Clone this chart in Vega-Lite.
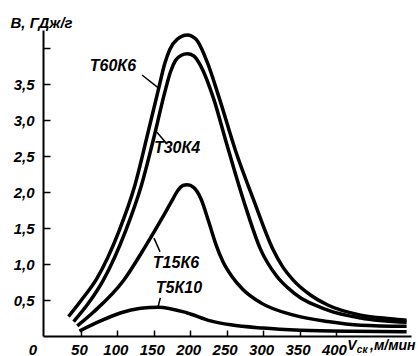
{
  "$schema": "https://vega.github.io/schema/vega-lite/v6.json",
  "width": 368,
  "height": 306,
  "autosize": {"type": "none"},
  "padding": {"left": 43, "top": 30, "right": 7, "bottom": 20},
  "background": "white",
  "config": {"view": {"stroke": null}, "font": "Liberation Sans"},
  "datasets": {
    "curves": [
      {"s": "T60K6", "v": 33, "b": 0.27}, {"s": "T60K6", "v": 50, "b": 0.49}, {"s": "T60K6", "v": 72, "b": 0.8},
      {"s": "T60K6", "v": 102, "b": 1.45}, {"s": "T60K6", "v": 124, "b": 2.09}, {"s": "T60K6", "v": 141.5, "b": 2.8},
      {"s": "T60K6", "v": 157, "b": 3.45}, {"s": "T60K6", "v": 165, "b": 3.78}, {"s": "T60K6", "v": 172, "b": 3.98},
      {"s": "T60K6", "v": 182, "b": 4.12}, {"s": "T60K6", "v": 196, "b": 4.18}, {"s": "T60K6", "v": 208, "b": 4.12},
      {"s": "T60K6", "v": 223.5, "b": 3.8}, {"s": "T60K6", "v": 240, "b": 3.3}, {"s": "T60K6", "v": 262, "b": 2.58},
      {"s": "T60K6", "v": 287, "b": 1.89}, {"s": "T60K6", "v": 312.8, "b": 1.22}, {"s": "T60K6", "v": 327, "b": 0.96},
      {"s": "T60K6", "v": 342, "b": 0.77}, {"s": "T60K6", "v": 365, "b": 0.57},
      {"s": "T60K6", "v": 388.7, "b": 0.43}, {"s": "T60K6", "v": 434, "b": 0.29}, {"s": "T60K6", "v": 475, "b": 0.24},
      {"s": "T60K6", "v": 497, "b": 0.22},
      {"s": "T30K4", "v": 40, "b": 0.2}, {"s": "T30K4", "v": 60, "b": 0.45}, {"s": "T30K4", "v": 81, "b": 0.78},
      {"s": "T30K4", "v": 111, "b": 1.45}, {"s": "T30K4", "v": 133, "b": 2.09}, {"s": "T30K4", "v": 150, "b": 2.75},
      {"s": "T30K4", "v": 165, "b": 3.38}, {"s": "T30K4", "v": 173, "b": 3.67}, {"s": "T30K4", "v": 180, "b": 3.83},
      {"s": "T30K4", "v": 188, "b": 3.9}, {"s": "T30K4", "v": 196, "b": 3.92},
      {"s": "T30K4", "v": 205, "b": 3.89}, {"s": "T30K4", "v": 214, "b": 3.76}, {"s": "T30K4", "v": 232, "b": 3.3},
      {"s": "T30K4", "v": 248.6, "b": 2.72}, {"s": "T30K4", "v": 273, "b": 1.89}, {"s": "T30K4", "v": 296.7, "b": 1.2},
      {"s": "T30K4", "v": 318, "b": 0.84}, {"s": "T30K4", "v": 342, "b": 0.6}, {"s": "T30K4", "v": 388.7, "b": 0.36},
      {"s": "T30K4", "v": 434, "b": 0.25}, {"s": "T30K4", "v": 497, "b": 0.19},
      {"s": "T15K6", "v": 45, "b": 0.14}, {"s": "T15K6", "v": 67, "b": 0.33}, {"s": "T15K6", "v": 108.5, "b": 0.77},
      {"s": "T15K6", "v": 134, "b": 1.17}, {"s": "T15K6", "v": 150, "b": 1.44}, {"s": "T15K6", "v": 165, "b": 1.7},
      {"s": "T15K6", "v": 175, "b": 1.88}, {"s": "T15K6", "v": 183, "b": 2.02}, {"s": "T15K6", "v": 190, "b": 2.09},
      {"s": "T15K6", "v": 196, "b": 2.1}, {"s": "T15K6", "v": 205, "b": 2.06}, {"s": "T15K6", "v": 215, "b": 1.9},
      {"s": "T15K6", "v": 225, "b": 1.6}, {"s": "T15K6", "v": 235, "b": 1.28}, {"s": "T15K6", "v": 245, "b": 1.03},
      {"s": "T15K6", "v": 257, "b": 0.83}, {"s": "T15K6", "v": 272, "b": 0.65}, {"s": "T15K6", "v": 297, "b": 0.46},
      {"s": "T15K6", "v": 342, "b": 0.29}, {"s": "T15K6", "v": 388.7, "b": 0.2}, {"s": "T15K6", "v": 434, "b": 0.15},
      {"s": "T15K6", "v": 497, "b": 0.135},
      {"s": "T5K10", "v": 48, "b": 0.07}, {"s": "T5K10", "v": 77, "b": 0.21}, {"s": "T5K10", "v": 104, "b": 0.32},
      {"s": "T5K10", "v": 132, "b": 0.385}, {"s": "T5K10", "v": 156.6, "b": 0.4}, {"s": "T5K10", "v": 196, "b": 0.32},
      {"s": "T5K10", "v": 228, "b": 0.21}, {"s": "T5K10", "v": 255.5, "b": 0.155}, {"s": "T5K10", "v": 299.5, "b": 0.11},
      {"s": "T5K10", "v": 351.6, "b": 0.08}, {"s": "T5K10", "v": 420, "b": 0.065}, {"s": "T5K10", "v": 497, "b": 0.06}
    ],
    "labels": [
      {"t": "Т60К6", "v": 94, "b": 3.75},
      {"t": "Т30К4", "v": 182, "b": 2.61},
      {"t": "Т15К6", "v": 180.5, "b": 1.01},
      {"t": "Т5К10", "v": 184.6, "b": 0.67}
    ],
    "titles": [
      {"t": "V", "v": 422, "b": -0.14},
      {"t": ",м/мин", "v": 478, "b": -0.14}
    ],
    "subs": [
      {"t": "ск", "v": 436, "b": -0.2}
    ],
    "leaders": [
      {"v1": 133.9, "b1": 3.625, "v2": 155.8, "b2": 3.45},
      {"v1": 154.4, "b1": 2.83, "v2": 167, "b2": 2.68},
      {"v1": 150.3, "b1": 1.36, "v2": 158.6, "b2": 1.17},
      {"v1": 159, "b1": 0.53, "v2": 155.8, "b2": 0.4}
    ]
  },
  "layer": [
    {
      "data": {"name": "curves"},
      "mark": {"type": "line", "interpolate": "monotone", "strokeWidth": 3.5, "color": "black", "clip": false},
      "encoding": {
        "x": {
          "field": "v", "type": "quantitative",
          "scale": {"domain": [-2, 503], "nice": false, "zero": false},
          "axis": {
            "values": [0, 50, 100, 150, 200, 250, 300, 350, 400],
            "title": null, "grid": false,
            "domainColor": "black", "domainWidth": 2,
            "tickColor": "black", "tickWidth": 1.5, "tickSize": -6,
            "tickOpacity": {"condition": {"test": "datum.value === 0", "value": 0}, "value": 1},
            "labelPadding": 12, "labelFlush": false,
            "labelFontSize": 15, "labelFontStyle": "italic", "labelFontWeight": "bold", "labelColor": "black",
            "labelOffset": {"condition": {"test": "datum.value === 0", "value": -12}, "value": -2}
          }
        },
        "y": {
          "field": "b", "type": "quantitative",
          "scale": {"domain": [0, 4.25], "nice": false},
          "axis": {
            "values": [0.5, 1, 1.5, 2, 2.5, 3, 3.5, 4],
            "labelExpr": "datum.value >= 4 ? '' : replace(format(datum.value, '.1f'), '.', ',')",
            "title": "B, ГДж/г", "titleAngle": 0, "titleX": -33, "titleY": -8,
            "titleAlign": "left", "titleBaseline": "middle",
            "titleFontSize": 15, "titleFontStyle": "italic", "titleFontWeight": "bold", "titleColor": "black",
            "grid": false,
            "domainColor": "black", "domainWidth": 2,
            "tickColor": "black", "tickWidth": 1.5, "tickSize": -7,
            "labelPadding": 16,
            "labelFontSize": 15, "labelFontStyle": "italic", "labelFontWeight": "bold", "labelColor": "black"
          }
        },
        "detail": {"field": "s"}
      }
    },
    {
      "data": {"name": "leaders"},
      "mark": {"type": "rule", "strokeWidth": 1.5, "color": "black"},
      "encoding": {
        "x": {"field": "v1", "type": "quantitative"},
        "y": {"field": "b1", "type": "quantitative"},
        "x2": {"field": "v2"},
        "y2": {"field": "b2"}
      }
    },
    {
      "data": {"name": "labels"},
      "mark": {"type": "text", "fontSize": 16, "fontStyle": "italic", "fontWeight": "bold", "color": "black", "clip": false, "baseline": "middle", "align": "center"},
      "encoding": {
        "x": {"field": "v", "type": "quantitative"},
        "y": {"field": "b", "type": "quantitative"},
        "text": {"field": "t"}
      }
    },
    {
      "data": {"name": "titles"},
      "mark": {"type": "text", "fontSize": 14, "fontStyle": "italic", "fontWeight": "bold", "color": "black", "clip": false, "baseline": "middle", "align": "center"},
      "encoding": {
        "x": {"field": "v", "type": "quantitative"},
        "y": {"field": "b", "type": "quantitative"},
        "text": {"field": "t"}
      }
    },
    {
      "data": {"name": "subs"},
      "mark": {"type": "text", "fontSize": 10, "fontStyle": "italic", "fontWeight": "bold", "color": "black", "clip": false, "baseline": "middle", "align": "center"},
      "encoding": {
        "x": {"field": "v", "type": "quantitative"},
        "y": {"field": "b", "type": "quantitative"},
        "text": {"field": "t"}
      }
    }
  ]
}
